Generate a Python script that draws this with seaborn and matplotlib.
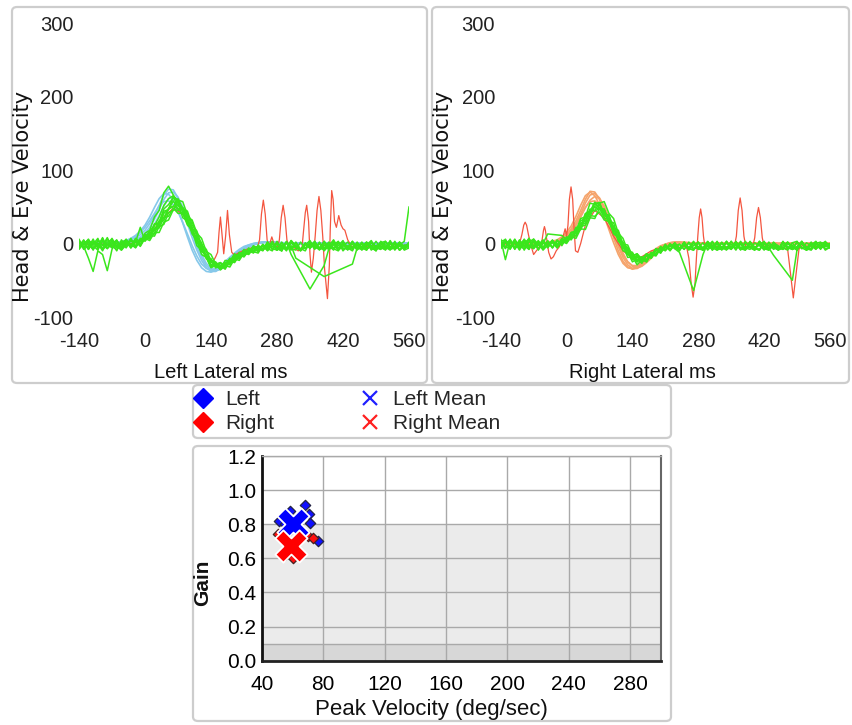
import numpy as np
import pandas as pd
import matplotlib
matplotlib.use('Agg')
import matplotlib.pyplot as plt
import seaborn as sns
from matplotlib.patches import FancyBboxPatch
from matplotlib.lines import Line2D

nan = float('nan')

# ---------------- data ----------------
TIME = [-140, -130, -120, -110, -100, -90, -80, -70, -60, -50,
        -40, -30, -20, -10, 0, 10, 20, 30, 40, 50,
        60, 70, 80, 90, 100, 110, 120, 130, 140, 150,
        160, 170, 180, 190, 200, 210, 220, 230, 240, 250,
        260, 270, 280, 290, 300, 310, 320, 330, 340, 350,
        360, 370, 380, 390, 400, 410, 420, 430, 440, 450,
        460, 470, 480, 490, 500, 510, 520, 530, 540, 550,
        560]

# Left lateral: head velocity (blue)
left_head = [
    [0, 1, 0, -1, 0, 1, 0, 0, 1, 2,
     3, 5, 8, 12, 18, 27, 38, 52, 66, 74,
     73, 62, 46, 27, 8, -9, -23, -33, -38, -38,
     -34, -28, -21, -15, -10, -6, -3, -1, 1, 2,
     2, 2, 1, 1, 0, 0, 1, 0, -1, 0,
     0, 1, 0, -1, 0, 0, 1, 0, 0, -1,
     0, 1, 0, 0, 0, -1, 0, 1, 0, 0,
     0],
    [1, 0, 0, 1, -1, 0, 1, 0, 0, 1,
     2, 3, 5, 9, 14, 22, 33, 46, 60, 69,
     70, 63, 50, 33, 14, -4, -19, -30, -36, -37,
     -35, -30, -24, -18, -12, -8, -4, -2, 0, 1,
     2, 2, 2, 1, 1, 0, 0, -1, 0, 1,
     0, 0, -1, 0, 1, 0, 0, -1, 0, 0,
     1, 0, 0, -1, 0, 0, 1, 0, 0, -1,
     0],
    [0, 0, 1, 0, 0, 1, 0, -1, 0, 1,
     1, 2, 4, 7, 11, 17, 26, 38, 51, 61,
     64, 60, 49, 34, 17, 0, -15, -27, -34, -36,
     -35, -31, -25, -19, -13, -8, -5, -2, 0, 1,
     2, 2, 1, 1, 0, 0, 0, 1, 0, 0,
     -1, 0, 0, 1, 0, 0, -1, 0, 1, 0,
     0, 0, -1, 0, 0, 1, 0, 0, 0, 1,
     0],
    [0, -1, 0, 0, 1, 0, 0, 1, 1, 2,
     4, 6, 10, 15, 22, 31, 41, 51, 57, 58,
     53, 43, 29, 13, -3, -17, -28, -34, -36, -34,
     -30, -25, -19, -14, -9, -5, -2, 0, 1, 2,
     2, 1, 1, 0, 0, 1, 0, 0, -1, 0,
     0, 1, 0, 0, -1, 0, 0, 1, 0, 0,
     0, -1, 0, 1, 0, 0, 0, -1, 0, 0,
     1],
    [0, 0, 0, 1, 0, 0, -1, 0, 1, 2,
     4, 7, 11, 17, 25, 36, 49, 61, 68, 67,
     59, 45, 28, 9, -9, -23, -33, -38, -39, -36,
     -31, -25, -19, -13, -8, -4, -2, 0, 1, 2,
     2, 1, 1, 0, 0, 0, 1, 0, 0, -1,
     0, 0, 1, 0, 0, -1, 0, 0, 1, 0,
     0, 1, 0, 0, -1, 0, 0, 1, 0, 0,
     0],
]

# Left lateral: eye velocity (green)
left_eye = [
    [6, -7, 2, -9, 4, -3, 8, -5, 0, -8,
     3, -6, 5, -2, 12, 10, 27, 25, 44, 46,
     58, 47, 48, 29, 22, 2, -4, -21, -23, -33,
     -27, -32, -20, -24, -12, -17, -6, -12, -2, -9,
     2, -8, -1, -10, 3, -6, 1, -9, -2, 4,
     -7, 0, -10, -3, 5, -6, -1, -9, 2, -5,
     -8, 1, -4, -10, 3, -2, -7, 0, -9, -3,
     -1],
    [1, -4, -20, -38, -10, -15, -37, -8, 4, -6,
     5, -3, 7, 2, 14, 18, 36, 45, 69, 78,
     66, 55, 35, 31, 13, 4, -15, -19, -33, -30,
     -35, -26, -27, -15, -18, -9, -13, -4, -8, -2,
     -6, 3, -9, -2, -7, 4, -5, -10, 0, -4,
     3, -8, -2, -6, 1, -9, -4, 2, -7, -1,
     -5, 2, -9, -3, 0, -7, 4, -6, -2, -8,
     -2],
    [-5, 4, -8, 1, -3, 7, -6, -1, 5, -9,
     -2, 6, -5, 3, 4, 13, 13, 29, 31, 47,
     50, 61, 47, 41, 21, 13, -6, -11, -26, -26,
     -35, -28, -29, -19, -21, -11, -14, -6, -10, -3,
     -9, 0, -6, -10, 2, -15, nan, nan, nan, -62,
     nan, nan, -30, -7, 3, -9, -1, -6, -10, 2,
     -6, -9, 1, -4, -8, 3, -5, -1, -9, -4,
     0],
    [3, -2, 6, -7, 0, -10, 2, 5, -6, -1,
     6, -5, 2, -3, 9, 6, 20, 21, 35, 37,
     48, 41, 41, 25, 19, 2, -3, -19, -21, -31,
     -26, -31, -21, -23, -14, -16, -8, -11, -13, -3,
     -10, -1, -8, 2, -7, -3, -20, nan, nan, nan,
     nan, nan, -45, nan, nan, nan, nan, nan, -28, -6,
     2, -8, -3, -10, 1, -5, -7, 3, -9, -2,
     -5],
    [-4, 5, -8, 3, -1, -7, 6, -3, -9, 2,
     4, -6, 2, 22, 3, 11, 10, 23, 26, 42,
     45, 58, 48, 44, 25, 17, -2, -8, -24, -25,
     -36, -30, -32, -21, -23, -13, -15, -7, -11, -3,
     -9, 2, -7, -3, -10, 1, -5, -8, 0, -6,
     -1, -9, 3, -5, -7, 2, -10, -3, -6, 1,
     -8, -2, 4, -7, -4, -9, 0, -6, 2, -5,
     -3],
    [2, -6, 4, -1, 7, -8, -2, 3, -10, 5,
     -4, 7, -5, 4, 11, 11, 25, 29, 47, 53,
     63, 51, 47, 27, 18, -3, -9, -19, -32, -29,
     -34, -23, -24, -14, -18, -8, -12, -3, -7, -10,
     0, -8, 3, -7, -5, -9, 2, -8, -6, 1,
     -8, 2, -7, -3, -9, 1, -6, -8, 3, -7,
     -1, -9, 2, -6, -3, -7, 1, -8, -2, 3,
     50],
    [-6, 3, -1, -8, 5, -2, -7, 4, -4, -9,
     4, -5, 4, -4, 7, 4, 15, 15, 29, 32,
     46, 45, 49, 36, 32, 14, 7, -11, -15, -28,
     -26, -33, -24, -26, -16, -18, -10, -13, -4, -8,
     2, -7, -9, 1, -8, 3, -6, -9, 1, -7,
     3, -8, -6, 2, -7, -10, 1, -6, 3, -8,
     -6, 2, -7, -9, 1, 3, -8, -6, 2, -7,
     -1],
    [3, -1, -5, 6, -7, 3, -1, -6, 4, -4,
     1, -3, 6, -2, 9, 8, 21, 24, 41, 47,
     63, 59, 57, 39, 30, 9, 1, -17, -21, -33,
     -30, -35, -24, -25, -15, -18, -9, -12, -5, -9,
     -2, -4, -7, -10, 1, -7, -9, 2, -7, 0,
     -5, -8, 3, -7, 0, -9, 2, -5, -8, 0,
     -8, 1, -7, 3, -6, -8, 2, -9, 0, -4,
     -5],
    [-8, 0, 5, -3, -9, 4, -2, 7, -4, 1,
     -6, 4, -3, 7, 5, 15, 17, 31, 35, 48,
     51, 47, 40, 34, 16, 8, -11, -15, -29, -27,
     -33, -26, -26, -17, -19, -10, -12, -4, -9, -1,
     -7, -10, 1, -5, -8, 4, -3, -7, -10, 2,
     -4, -7, 1, -9, -2, 3, -8, -4, -1, -9,
     1, -6, -3, -8, 2, -5, -9, 0, -4, -7,
     2],
    [4, -8, -3, 2, -5, 8, -7, 0, 3, -5,
     2, -1, -6, 5, 8, 17, 24, 36, 52, 61,
     65, 58, 42, 35, 17, 5, -10, -16, -30, -31,
     -32, -27, -22, -21, -13, -14, -7, -10, -3, -8,
     -4, 1, -9, -5, 2, -8, -3, -10, -1, -6,
     1, -5, -9, 0, -6, -3, 4, -8, -5, -2,
     -9, -3, 1, -6, -8, 2, -4, -7, 0, -9,
     -6],
]

# Left lateral: eye trace with saccades (red)
left_sacc_t = [-140, -100, -60, -20, 0, 20, 40, 60, 80, 100,
               120, 135, 145, 150, 154, 157, 160, 163, 167, 171,
               175, 179, 184, 190, 200, 215, 230, 239, 243, 247,
               251, 255, 259, 263, 269, 275, 281, 285, 289, 293,
               297, 301, 305, 315, 325, 333, 336, 340, 343, 347,
               350, 353, 357, 361, 365, 369, 373, 377, 381, 387,
               391, 393, 396, 399, 402, 406, 411, 416, 420, 424,
               430, 438, 450, 480, 520, 560]
left_sacc_v = [-2, 0, -3, 1, 8, 20, 36, 48, 40, 20,
               -8, -22, -24, -18, -12, 15, 36, 15, -14, 10,
               45, 12, -12, -16, -12, -8, -5, -4, 5, 40,
               59, 40, 5, -4, 9, -3, -5, 5, 35, 52,
               35, 5, -4, -5, -10, -6, 15, 42, 52, 30,
               -15, -39, -20, 10, 45, 64, 45, 10, -35, -75,
               -30, 20, 72, 60, 30, 22, 38, 25, 20, 18,
               5, -4, -6, -3, -4, -2]

# Right lateral: head velocity (orange)
right_head = [
    [0, 0, 1, 0, -1, 0, 0, 1, 0, 0,
     1, 2, 4, 7, 12, 20, 31, 45, 60, 71,
     70, 60, 45, 27, 8, -10, -24, -32, -35, -33,
     -28, -21, -14, -8, -4, -1, 1, 2, 2, 1,
     1, 0, 0, 1, 0, -1, 0, 0, 1, 0,
     0, -1, 0, 0, 1, 0, 0, -1, 0, 0,
     1, 0, 0, -1, 0, 0, 1, 0, 0, 0,
     0],
    [0, 1, 0, 0, 1, 0, -1, 0, 0, 1,
     1, 2, 3, 6, 10, 17, 27, 40, 55, 66,
     68, 62, 49, 32, 14, -4, -19, -29, -34, -34,
     -30, -24, -17, -11, -6, -2, 0, 1, 2, 1,
     1, 1, 0, 0, -1, 0, 1, 0, 0, -1,
     0, 0, 1, 0, 0, -1, 0, 0, 1, 0,
     0, -1, 0, 0, 1, 0, 0, 0, -1, 0,
     0],
    [1, 0, 0, -1, 0, 0, 1, 0, 0, 1,
     1, 2, 3, 5, 9, 15, 24, 36, 49, 59,
     64, 61, 51, 36, 19, 2, -13, -25, -31, -33,
     -31, -26, -20, -13, -8, -4, -1, 1, 1, 2,
     1, 0, 0, 1, 0, 0, -1, 0, 0, 1,
     0, 0, 0, -1, 0, 1, 0, 0, 0, -1,
     0, 0, 1, 0, 0, -1, 0, 0, 1, 0,
     0],
    [0, 0, 0, 1, 0, 0, 0, -1, 0, 1,
     1, 2, 4, 7, 11, 17, 26, 37, 49, 57,
     58, 53, 42, 28, 12, -3, -16, -25, -30, -30,
     -27, -21, -15, -9, -5, -2, 0, 1, 1, 1,
     0, 0, 1, 0, 0, -1, 0, 0, 1, 0,
     0, 1, 0, 0, -1, 0, 0, 0, 1, 0,
     -1, 0, 0, 1, 0, 0, 0, -1, 0, 0,
     0],
    [0, 0, 1, 0, 0, -1, 0, 0, 1, 1,
     2, 3, 5, 9, 15, 24, 37, 52, 65, 70,
     65, 53, 37, 19, 1, -15, -27, -33, -34, -31,
     -25, -18, -12, -7, -3, -1, 1, 2, 1, 1,
     0, 0, 1, 0, -1, 0, 0, 1, 0, 0,
     -1, 0, 0, 1, 0, 0, 0, -1, 0, 0,
     1, 0, 0, 0, -1, 0, 0, 1, 0, 0,
     0],
]

# Right lateral: eye velocity (green)
right_eye = [
    [5, -6, 3, -8, 2, -4, 7, -3, 0, -9,
     -2, 4, -5, 6, 3, 13, 11, 27, 27, 45,
     45, 55, 41, 38, 18, 14, -7, -9, -22, -18,
     -26, -16, -20, -8, -12, -3, -9, 1, -8, -2,
     -9, 1, -6, -8, 2, -5, -1, -9, 3, -6,
     -2, -8, 1, -5, -9, 3, -4, -7, 0, -8,
     2, -7, -3, -9, 1, -5, -8, 0, -6, -2,
     -4],
    [-4, 6, -7, 1, -9, 4, -3, 2, -8, 0,
     13, nan, nan, 11, 5, 15, 17, 34, 36, 55,
     53, 56, 38, 34, 13, 8, -10, -12, -25, -21,
     -27, -16, -19, -8, -11, -5, -8, -2, -10, 0,
     -6, -9, 2, -7, -3, -8, 1, -5, -9, 3,
     -7, -1, -9, 2, -5, -8, 0, -6, -3, -9,
     1, -4, -8, 2, -6, -9, 0, -3, -7, 2,
     -3],
    [2, -7, 5, -5, 4, -3, -8, 6, -1, 3,
     -6, 3, -2, 3, 0, 9, 7, 20, 19, 35,
     34, 48, 38, 39, 21, 18, -1, -2, -17, -14,
     -24, -15, -20, -9, -13, -2, -8, -3, -1, -8,
     1, -8, -4, -9, 2, -3, -7, 1, -8, -5,
     2, -7, -9, 1, -6, -2, 3, -8, -4, -9,
     -6, 2, -8, -4, 3, -7, -9, 0, -6, -2,
     0],
    [-6, 3, -4, 6, -8, 2, 5, -7, 3, -5,
     3, -6, 4, -1, 9, 8, 22, 23, 41, 43,
     56, 47, 46, 28, 23, 3, -3, -19, -18, -29,
     -22, -25, -13, -16, -5, -9, -1, -7, -12, nan,
     nan, -64, nan, -15, 1, -9, 2, -7, -5, -8,
     3, -6, -8, 2, -7, -9, 1, -3, -6, -8,
     2, -7, 1, -9, 3, -6, -8, 2, -7, -1,
     -6],
    [4, -5, 6, -7, 3, -4, 7, -6, -2, 5,
     -5, 4, -4, 7, 4, 15, 16, 31, 34, 47,
     44, 48, 35, 32, 15, 10, -6, -8, -20, -17,
     -24, -15, -18, -8, -11, -2, -9, 0, -8, 1,
     -7, 2, -8, -6, 3, -9, 1, -7, 2, -8,
     0, -9, 3, -5, -7, 2, -8, -6, -16, nan,
     nan, nan, -50, -8, 0, -8, 2, -7, 1, -9,
     -5],
    [-5, 3, -8, 4, -6, 6, -4, -7, 3, -6,
     4, -5, 3, -1, 7, 5, 17, 19, 35, 40,
     55, 55, 57, 41, 34, 14, 7, -10, -12, -23,
     -20, -25, -15, -17, -7, -10, -2, -6, -9, 2,
     -8, 1, -7, -9, 2, -6, 3, -8, -6, -1,
     -9, 2, -6, -8, 1, -3, -7, -9, 2, -6,
     -8, 1, -3, -7, 2, -9, -6, 1, -8, 3,
     -6],
    [6, -22, 3, -7, 5, -9, 2, 6, -8, 3,
     -5, 5, -6, 4, 1, 11, 10, 23, 25, 38,
     37, 43, 32, 30, 14, 10, -5, -6, -17, -14,
     -21, -14, -16, -7, -10, -1, -9, 1, -7, 2,
     -6, 3, -8, -5, -7, 2, -9, -6, 3, -7,
     1, -8, -4, -6, -9, 3, -7, 1, -8, -4,
     -6, -9, 1, 3, -7, -4, -8, 0, 2, -7,
     -5],
    [3, 5, -6, 4, -4, -7, 5, -5, 4, -8,
     2, -6, 5, -3, 8, 7, 20, 23, 39, 43,
     56, 48, 46, 29, 23, 5, 0, -15, -15, -25,
     -19, -23, -13, -15, -6, -8, -4, 0, -8, 1,
     -7, -9, 1, -8, 2, -6, -9, 1, -7, 3,
     -7, 1, -8, 3, -6, -9, 2, -7, 1, -8,
     3, -6, -8, 2, -7, 1, -3, -8, 0, 2,
     -6],
    [-7, 1, 4, -6, -1, 5, -8, 3, -3, 1,
     -4, 3, -1, 5, 2, 12, 14, 28, 30, 44,
     50, 46, 47, 31, 28, 7, 2, -14, -14, -25,
     -18, -22, -12, -14, -4, -9, 0, -7, -1, -8,
     2, -7, -5, 1, -9, -2, -6, 2, -8, -4,
     -6, 3, -7, -1, -8, 2, -5, -9, 1, -3,
     -8, 0, -5, -9, 2, -6, 1, -7, -3, 1,
     -2],
    [2, -4, -7, 5, -3, 1, -6, 4, -9, 2,
     -3, 1, -6, 2, 6, 6, 19, 19, 35, 37,
     51, 52, 40, 37, 19, 15, -4, -5, -20, -16,
     -25, -14, -19, -7, -13, -3, -10, -1, -7, 0,
     -8, -3, 2, -9, -4, 3, -7, -8, 1, -6,
     2, -7, -8, 1, -5, -2, -9, 2, -6, -7,
     -3, 2, -8, -5, 1, -9, -2, 3, -6, -4,
     -3],
]

# Right lateral: eye trace with saccades (red)
right_sacc_t = [-140, -120, -105, -100, -95, -91, -88, -85, -81, -76,
                -70, -62, -55, -52, -49, -47, -45, -42, -38, -33,
                -28, -22, -15, -8, -3, 0, 3, 6, 9.5, 13,
                16, 19, 24, 30, 40, 60, 80, 100, 120, 140,
                160, 180, 200, 220, 240, 255, 260, 265, 269, 273,
                276, 279, 282, 285, 288, 291, 294, 310, 330, 350,
                357, 361, 365, 369, 373, 377, 381, 396, 400, 404,
                408, 412, 416, 420, 440, 460, 470, 475, 482, 489,
                494, 500, 530, 560]
right_sacc_v = [-3, 2, -2, 0, 12, 25, 29, 25, 12, -2,
                -15, -8, -2, 5, 18, 23, 18, 5, -12, -21,
                -18, -10, -4, 8, 20, 10, 25, 60, 77, 60,
                20, -10, -12, 0, 25, 45, 35, 10, -10, -20,
                -18, -10, -6, -4, -5, -4, -20, -55, -73, -55,
                -20, 10, 35, 47, 35, 10, -4, -3, -5, -4,
                -3, 10, 45, 62, 45, 10, -4, -4, 8, 35,
                49, 35, 8, -4, -3, -5, -8, -35, -74, -35,
                -8, -3, -4, -2]

TIME_TICKS = [-140, 0, 140, 280, 420, 560]
VEL_TICKS = [-100, 0, 100, 200, 300]

# Gain vs. peak velocity scatter
left_pv = [51.4, 58.4, 68.1, 70.9, 71.4, 76.8, 55.0, 62.0, 58.0, 64.0]
left_gain = [0.82, 0.88, 0.91, 0.86, 0.81, 0.70, 0.80, 0.83, 0.76, 0.78]
right_pv = [70.3, 73.5, 55.1, 60.5, 64.9, 50.8, 57.0, 62.0]
right_gain = [0.73, 0.72, 0.62, 0.60, 0.63, 0.74, 0.66, 0.69]
left_mean_pv = [60.5]
left_mean_gain = [0.80]
right_mean_pv = [59.0]
right_mean_gain = [0.675]
gain_band_edges = [0.0, 0.1, 0.8]
PV_TICKS = [40, 80, 120, 160, 200, 240, 280]
GAIN_TICKS = [0.0, 0.2, 0.4, 0.6, 0.8, 1.0, 1.2]

# ---------------- style ----------------
sns.set_theme(style='white')
plt.rcParams['font.family'] = ['Liberation Sans', 'DejaVu Sans']
plt.rcParams['axes.unicode_minus'] = False

C_GREEN = '#3ae61c'
C_BLUE_HEAD = '#86c8ea'
C_ORANGE_HEAD = '#f5a46c'
C_RED = '#f4553f'

W, H = 852, 725
fig = plt.figure(figsize=(W / 100, H / 100), dpi=100)
fig.patch.set_facecolor('white')


def rect(x0, y0, x1, y1):
    return [x0 / W, 1 - y1 / H, (x1 - x0) / W, (y1 - y0) / H]


def frame(x0, y0, x1, y1):
    p = FancyBboxPatch((x0 / W, 1 - y1 / H), (x1 - x0) / W, (y1 - y0) / H,
                       boxstyle='round,pad=0,rounding_size=0.006',
                       transform=fig.transFigure, fc='none', ec='#cdcdcd', lw=1.6)
    fig.patches.append(p)


frame(12, 7, 427, 383)
frame(432, 7, 849, 383)
frame(193, 385, 671, 438)
frame(193, 446, 671, 721)


def long_df(traces):
    rows = []
    for k, tr in enumerate(traces):
        if len(tr) != len(TIME):
            raise ValueError(f'trace {k} has {len(tr)} values')
        rows.append(pd.DataFrame({'t': TIME, 'v': tr, 'trace': k}))
    return pd.concat(rows, ignore_index=True)


def vel_panel(ax, head, eye, sacc_t, sacc_v, head_color, xlabel, xlab_px, ylab_px):
    sns.lineplot(data=long_df(head), x='t', y='v', units='trace', estimator=None,
                 color=head_color, lw=1.2, ax=ax, legend=False)
    sns.lineplot(x=sacc_t, y=sacc_v, color=C_RED, lw=0.9, ax=ax, legend=False,
                 estimator=None)
    sns.lineplot(data=long_df(eye), x='t', y='v', units='trace', estimator=None,
                 color=C_GREEN, lw=1.1, ax=ax, legend=False)
    ax.set_xlim(-140, 560)
    ax.set_ylim(-100, 300)
    ax.set_xticks(TIME_TICKS)
    ax.set_yticks(VEL_TICKS)
    ax.set_xticklabels([str(v) for v in TIME_TICKS])
    ax.set_yticklabels([str(v) for v in VEL_TICKS])
    ax.set_xlabel('')
    ax.set_ylabel('')
    for s in ax.spines.values():
        s.set_visible(False)
    ax.tick_params(length=0, labelsize=14.5, colors='#222222')
    ax.tick_params(axis='x', pad=11)
    ax.tick_params(axis='y', pad=4)
    ax.set_facecolor('white')
    fig.text(xlab_px[0] / W, 1 - xlab_px[1] / H, xlabel, ha='center', va='center',
             fontsize=14.5, color='#111111')
    fig.text(ylab_px[0] / W, 1 - ylab_px[1] / H, 'Head & Eye Velocity', ha='center',
             va='center', rotation=90, fontsize=15, family='DejaVu Sans', color='#111111')


axL = fig.add_axes(rect(79, 23, 409, 317))
vel_panel(axL, left_head, left_eye, left_sacc_t, left_sacc_v, C_BLUE_HEAD,
          'Left Lateral ms', (221, 372), (23, 196))
axR = fig.add_axes(rect(500.7, 23, 830, 317))
vel_panel(axR, right_head, right_eye, right_sacc_t, right_sacc_v, C_ORANGE_HEAD,
          'Right Lateral ms', (642, 372), (443, 196))

# ---------------- scatter ----------------
axS = fig.add_axes(rect(261.7, 456, 661, 660.7))
axS.set_facecolor('white')
axS.axhspan(gain_band_edges[0], gain_band_edges[1], color='#d7d7d7', zorder=0.1, lw=0)
axS.axhspan(gain_band_edges[1], gain_band_edges[2], color='#ebebeb', zorder=0.1, lw=0)
axS.set_xlim(40, 300)
axS.set_ylim(0, 1.2)
axS.set_xticks(PV_TICKS)
axS.set_yticks(GAIN_TICKS)
axS.set_yticks([gain_band_edges[1]], minor=True)
axS.set_xticklabels([str(v) for v in PV_TICKS])
axS.set_yticklabels([f'{v:.1f}' for v in GAIN_TICKS])
axS.grid(True, which='both', color='#a9a9a9', lw=1.0, zorder=0.5)
axS.set_axisbelow(True)
axS.tick_params(which='both', length=0, labelsize=15, colors='black')
axS.tick_params(axis='x', pad=10.5)
axS.tick_params(axis='y', pad=4)
axS.spines['left'].set_color('#111111')
axS.spines['left'].set_linewidth(2.0)
axS.spines['bottom'].set_color('#222222')
axS.spines['bottom'].set_linewidth(2.0)
axS.spines['top'].set_color('#a9a9a9')
axS.spines['top'].set_linewidth(1.0)
axS.spines['right'].set_color('#666666')
axS.spines['right'].set_linewidth(1.5)

sns.scatterplot(x=left_pv, y=left_gain, marker='D', s=28, color='#1010ff',
                edgecolor='#222244', linewidth=0.9, ax=axS, zorder=3, legend=False)
sns.scatterplot(x=right_pv, y=right_gain, marker='D', s=28, color='#ff1010',
                edgecolor='#442222', linewidth=0.9, ax=axS, zorder=3, legend=False)
sns.scatterplot(x=left_mean_pv, y=left_mean_gain, marker='X', s=540, color='#0000ff',
                edgecolor='white', linewidth=1.3, ax=axS, zorder=4, legend=False)
sns.scatterplot(x=right_mean_pv, y=right_mean_gain, marker='X', s=540, color='#ff0000',
                edgecolor='white', linewidth=1.3, ax=axS, zorder=5, legend=False)
axS.set_xlabel('')
axS.set_ylabel('')
fig.text(203 / W, 1 - 583 / H, 'Gain', ha='center', va='center', rotation=90,
         fontsize=15, fontweight='bold', color='#111111')
fig.text(431.7 / W, 1 - 709 / H, 'Peak Velocity (deg/sec)', ha='center', va='center',
         fontsize=16, color='#111111')

# ---------------- legend ----------------
handles = [
    Line2D([], [], ls='none', marker='D', ms=10, color='#0000ff', mec='#0000ff'),
    Line2D([], [], ls='none', marker='D', ms=10, color='#ff0000', mec='#ff0000'),
    Line2D([], [], ls='none', marker='x', ms=10, mew=1.6, color='#2020ff'),
    Line2D([], [], ls='none', marker='x', ms=10, mew=1.6, color='#ff2020'),
]
labels = ['Left', 'Right', 'Left Mean', 'Right Mean']
fig.legend(handles, labels, loc='upper left', bbox_to_anchor=(190 / W, 1 - 388 / H),
           ncol=2, frameon=False, fontsize=15, handlelength=1.0, handletextpad=0.6,
           columnspacing=4.1, labelspacing=0.25, borderaxespad=0, borderpad=0.1)

fig.savefig('out.png', dpi=100, facecolor='white')
